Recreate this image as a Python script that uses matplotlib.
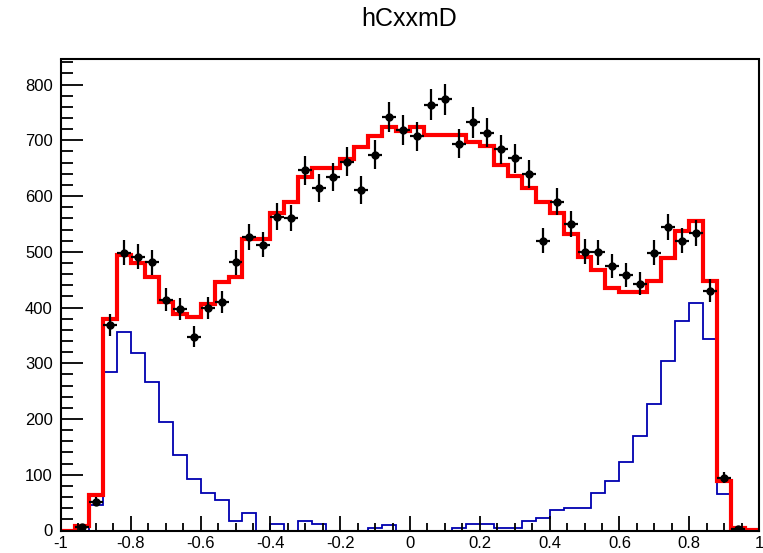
import matplotlib
matplotlib.use('Agg')
import matplotlib.pyplot as plt
from matplotlib.ticker import MultipleLocator, FuncFormatter
import numpy as np

# 50 bins from -1 to 1
edges = np.linspace(-1, 1, 51)
centers = 0.5 * (edges[:-1] + edges[1:])

# total prediction (red)
total = [0, 8, 63, 379, 495, 480, 455, 410, 388, 383,
         407, 446, 455, 523, 523, 570, 589, 634, 651, 651,
         666, 688, 708, 724, 716, 724, 709, 709, 709, 697,
         690, 656, 636, 614, 590, 569, 532, 490, 468, 435,
         428, 427, 447, 489, 538, 556, 447, 88, 4, 1]

# component (blue)
comp = [0, 0, 45, 285, 357, 319, 266, 194, 136, 93,
        68, 54, 17, 32, 0, 11, 0, 17, 11, 0,
        0, 0, 5, 10, 0, 0, 0, 0, 4, 11,
        11, 5, 5, 17, 22, 36, 40, 40, 68, 88,
        122, 170, 227, 304, 376, 409, 343, 65, 0, 0]

# data points (black)
data = [0, 7, 52, 369, 498, 491, 481, 414, 397, 348,
        399, 410, 481, 527, 513, 563, 561, 646, 614, 635,
        662, 611, 674, 742, 718, 707, 764, 774, 694, 732,
        714, 684, 668, 640, 520, 590, 550, 500, 499, 475,
        459, 443, 498, 544, 520, 534, 430, 95, 2, 0]

plt.rcParams['font.family'] = ['Liberation Sans', 'DejaVu Sans']
plt.rcParams['axes.unicode_minus'] = False

fig = plt.figure(figsize=(7.63, 5.53), dpi=100)
ax = fig.add_axes([61/763, 22.5/553, 698/763, 471/553])

ax.stairs(comp, edges, color='#0000b0', linewidth=1.3)
ax.stairs(total, edges, color='#ff0000', linewidth=3.0)

d = np.array(data, dtype=float)
m = d > 0
ax.errorbar(centers[m], d[m], yerr=np.sqrt(d[m]), xerr=0.02, fmt='o',
            color='black', ms=5, elinewidth=1.6, capsize=0, zorder=5)

ax.set_xlim(-1, 1)
ax.set_ylim(0, 845)

ax.xaxis.set_major_locator(MultipleLocator(0.2))
ax.xaxis.set_minor_locator(MultipleLocator(0.05))
ax.yaxis.set_major_locator(MultipleLocator(100))
ax.yaxis.set_minor_locator(MultipleLocator(20))
ax.xaxis.set_major_formatter(FuncFormatter(lambda v, p: '%g' % round(v, 2)))

ax.tick_params(axis='both', which='both', direction='in', top=False, right=False,
               labelsize=12, width=1.3)
ax.tick_params(axis='x', which='major', length=11, pad=4)
ax.tick_params(axis='x', which='minor', length=6)
ax.tick_params(axis='y', which='major', length=16, pad=6)
ax.tick_params(axis='y', which='minor', length=8.4)

for s in ax.spines.values():
    s.set_linewidth(1.5)

fig.text(409/763, 1 - 19/553, 'hCxxmD', fontsize=18, ha='center', va='center')

fig.savefig('out.png', dpi=100)
